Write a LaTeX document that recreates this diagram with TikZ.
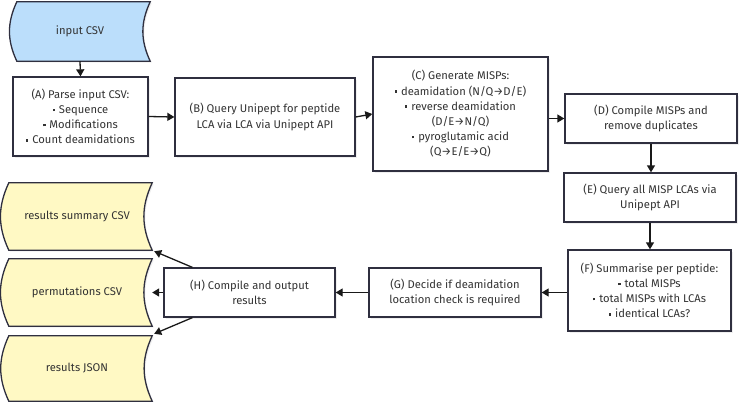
\documentclass[tikz,border=0pt]{standalone}
\usepackage{fontspec}
\setmainfont{Fira Sans}
\usetikzlibrary{arrows.meta,calc,shadows}
\pgfdeclarelayer{background}
\pgfsetlayers{background,main}
\definecolor{strk}{HTML}{2F2F3F}
\definecolor{txt}{HTML}{333333}
\definecolor{bluef}{HTML}{BBDEFB}
\definecolor{yelf}{HTML}{FFF9C4}
\newcommand\bul{\raisebox{0.22em}{\rule{2.4pt}{2.4pt}}\hspace{0.35em}}
\newcommand\storeshape[2]{%
  \draw[shapeline,fill=#2,drop shadow={opacity=0.13,shadow xshift=1.5pt,shadow yshift=-1.5pt}]
    ($(#1.north west)+(7,0)$) -- (#1.north east) to[out=-115,in=115] (#1.south east)
    -- ($(#1.south west)+(7,0)$) to[out=115,in=-115] ($(#1.north west)+(7,0)$) -- cycle;}
\tikzset{
  shapeline/.style={draw=strk,line width=1.3pt},
  proc/.style={shapeline,fill=white,align=center,text=txt,font=\fontsize{11.2}{15.2}\selectfont,
    inner sep=0pt,drop shadow={opacity=0.13,shadow xshift=1.5pt,shadow yshift=-1.5pt}},
  store/.style={draw=none,align=center,text=txt,font=\fontsize{11.2}{15.2}\selectfont,inner sep=0pt},
  arr/.style={draw=black!90,line width=1.3pt,-{Triangle[length=7pt,width=8pt]}},
}
\begin{document}
\begin{tikzpicture}[x=1pt,y=-1pt]
\useasboundingbox (0,0) rectangle (740,402);
% stored data nodes
\node[store,minimum width=140,minimum height=59] (in) at (80,31.5) {input CSV};
\node[store,minimum width=150,minimum height=67] (sum) at (77,216.5) {results summary CSV};
\node[store,minimum width=150,minimum height=67] (perm) at (77,292.5) {permutations CSV};
\node[store,minimum width=150,minimum height=65] (json) at (77,368.5) {results JSON};
\begin{pgfonlayer}{background}
\storeshape{in}{bluef}
\storeshape{sum}{yelf}
\storeshape{perm}{yelf}
\storeshape{json}{yelf}
\end{pgfonlayer}
% process boxes
\node[proc,minimum width=135,minimum height=79] (A) at (80.5,116.5)
  {(A) Parse input CSV:\\ \bul Sequence\\ \bul Modifications\\ \bul Count deamidations};
\node[proc,minimum width=180,minimum height=78] (B) at (265,117)
  {(B) Query Unipept for peptide\\LCA via LCA via Unipept API};
\node[proc,minimum width=175,minimum height=114] (C) at (460.5,114)
  {(C) Generate MISPs:\\ \bul deamidation (N/Q→D/E)\\ \bul reverse deamidation\\(D/E→N/Q)\\ \bul pyroglutamic acid\\(Q→E/E→Q)};
\node[proc,minimum width=172,minimum height=49] (D) at (651,118.5)
  {(D) Compile MISPs and\\remove duplicates};
\node[proc,minimum width=172,minimum height=49] (E) at (650,197.5)
  {(E) Query all MISP LCAs via\\Unipept API};
\node[proc,minimum width=163,minimum height=81] (F) at (649.5,290.5)
  {(F) Summarise per peptide:\\ \bul total MISPs\\ \bul total MISPs with LCAs\\ \bul identical LCAs?};
\node[proc,minimum width=172,minimum height=49] (G) at (455,292.5)
  {(G) Decide if deamidation\\location check is required};
\node[proc,minimum width=171,minimum height=49] (H) at (249.5,292.5)
  {(H) Compile and output\\results};
% connectors
\draw[arr] (in.south) -- (A.north);
\draw[arr] (A.east) -- (B.west);
\draw[arr] (B.east) -- (C.west);
\draw[arr] (C.east |- D.west) -- (D.west);
\draw[arr] (D.south) -- (D.south |- E.north);
\draw[arr] (E.south) -- (E.south |- F.north);
\draw[arr] (F.west |- G.east) -- (G.east);
\draw[arr] (G.west) -- (H.east);
\draw[arr] (H.west) -- (perm.east);
\draw[arr] ($(H.north west)+(29,0)$) -- ($(sum.south east)+(2,1)$);
\draw[arr] ($(H.south west)+(29,0)$) -- ($(json.north east)+(2,-2)$);
\end{tikzpicture}
\end{document}
